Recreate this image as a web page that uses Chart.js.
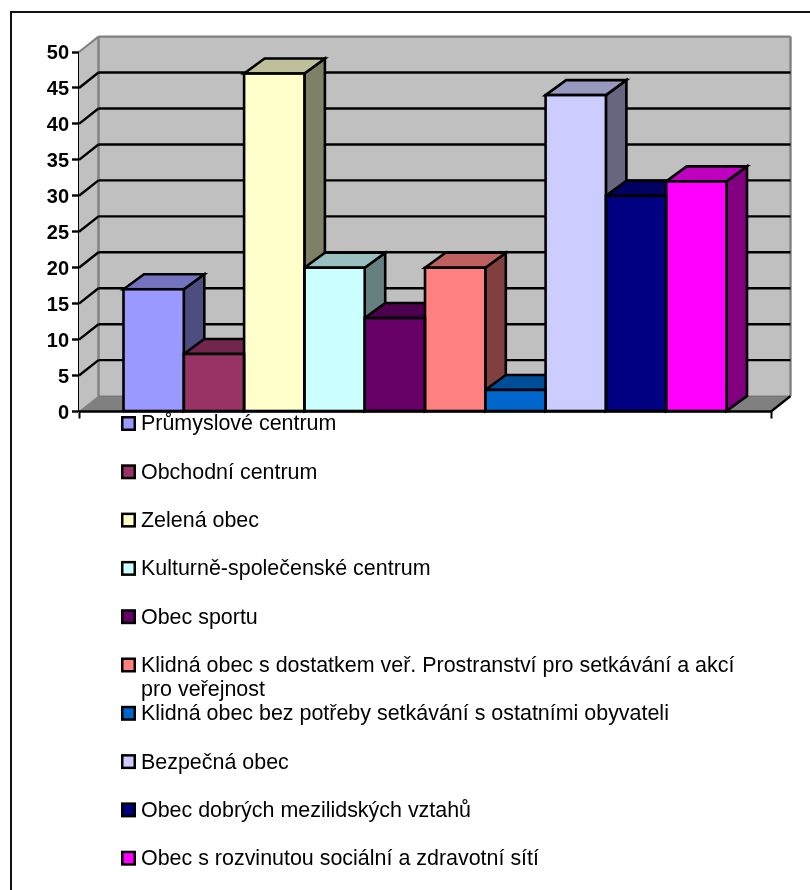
<!DOCTYPE html>
<html lang="cs">
<head>
<meta charset="utf-8">
<title>Chart</title>
<script src="https://cdn.jsdelivr.net/npm/chart.js@4/dist/chart.umd.min.js"></script>
<style>html,body{margin:0;padding:0;background:#fff}canvas{display:block}</style>
</head>
<body>
<canvas id="c" width="810" height="890"></canvas>
<script>
const seriesNames = [
  ["Průmyslové centrum"],
  ["Obchodní centrum"],
  ["Zelená obec"],
  ["Kulturně-společenské centrum"],
  ["Obec sportu"],
  ["Klidná obec s dostatkem veř. Prostranství pro setkávání a akcí", "pro veřejnost"],
  ["Klidná obec bez potřeby setkávání s ostatními obyvateli"],
  ["Bezpečná obec"],
  ["Obec dobrých mezilidských vztahů"],
  ["Obec s rozvinutou sociální a zdravotní sítí"]
];
const seriesValues = [17, 8, 47, 20, 13, 20, 3, 44, 30, 32];
const seriesColors = ["#9999FF","#993366","#FFFFCC","#CCFFFF","#660066","#FF8080","#0066CC","#CCCCFF","#000080","#FF00FF"];
const categories = [""];
const tickStep = 5, axisMax = 50;

const FONT = '"Liberation Sans", Arial, sans-serif';
const shade = (hex, k) => {
  const n = parseInt(hex.slice(1), 16);
  return `rgb(${Math.round((n>>16&255)*k)},${Math.round((n>>8&255)*k)},${Math.round((n&255)*k)})`;
};
const poly = (ctx, pts, fill, stroke, lw) => {
  ctx.beginPath();
  pts.forEach((p,i)=> i?ctx.lineTo(p[0],p[1]):ctx.moveTo(p[0],p[1]));
  ctx.closePath();
  if (fill){ctx.fillStyle=fill;ctx.fill();}
  if (stroke){ctx.strokeStyle=stroke;ctx.lineWidth=lw;ctx.lineJoin='miter';ctx.stroke();}
};
const line = (ctx,x1,y1,x2,y2,c,w)=>{ctx.beginPath();ctx.moveTo(x1,y1);ctx.lineTo(x2,y2);ctx.strokeStyle=c;ctx.lineWidth=w;ctx.stroke();};

const WALL_DX = 19.5, WALL_DY = 15.4, BAR_DX = 20.5, BAR_DY = 15;
const BAR_LINE = 2.6, GRID_LINE = 2.4;

const scene3d = {
  id:'scene3d',
  beforeDatasetsDraw(chart){
    const {ctx, scales:{x,y}} = chart;
    const L=x.left,R=x.right,T=y.getPixelForValue(axisMax),B=y.getPixelForValue(0);
    ctx.save();
    // back wall, side wall, floor
    poly(ctx,[[L+WALL_DX,T-WALL_DY],[R+WALL_DX,T-WALL_DY],[R+WALL_DX,B-WALL_DY],[L+WALL_DX,B-WALL_DY]],'#C0C0C0');
    poly(ctx,[[L,T],[L+WALL_DX,T-WALL_DY],[L+WALL_DX,B-WALL_DY],[L,B]],'#C0C0C0');
    poly(ctx,[[L,B],[L+WALL_DX,B-WALL_DY],[R+WALL_DX,B-WALL_DY],[R,B]],'#808080');
    // wall edges
    line(ctx,L,T,L+WALL_DX,T-WALL_DY,'#808080',2);
    line(ctx,L+WALL_DX,T-WALL_DY,R+WALL_DX,T-WALL_DY,'#808080',2.4);
    line(ctx,L+WALL_DX,T-WALL_DY,L+WALL_DX,B-WALL_DY,'#808080',2.4);
    line(ctx,R+WALL_DX,T-WALL_DY,R+WALL_DX,B-WALL_DY,'#808080',2.4);
    line(ctx,L+WALL_DX,B-WALL_DY,R+WALL_DX,B-WALL_DY,'#707070',1);
    line(ctx,L,B,L+WALL_DX,B-WALL_DY,'#808080',1);
    line(ctx,R,B,R+WALL_DX,B-WALL_DY,'#000',2.4);
    // gridlines
    for(let v=tickStep;v<axisMax;v+=tickStep){
      const py=y.getPixelForValue(v);
      line(ctx,L,py,L+WALL_DX,py-WALL_DY,'#000',GRID_LINE);
      line(ctx,L+WALL_DX,py-WALL_DY,R+WALL_DX,py-WALL_DY,'#000',GRID_LINE);
    }
    const bars = chart.data.datasets.map((d,i)=>({el:chart.getDatasetMeta(i).data[0],c:d.backgroundColor}));
    // sides first, then tops: a bar's top hides the lower part of its left neighbour's side
    bars.forEach(({el,c})=>{
      const r=el.x+el.width/2,t=el.y,b=el.base;
      poly(ctx,[[r,t],[r+BAR_DX,t-BAR_DY],[r+BAR_DX,b-BAR_DY],[r,b]],shade(c,.5),'#000',BAR_LINE);
    });
    bars.forEach(({el,c})=>{
      const l=el.x-el.width/2,r=el.x+el.width/2,t=el.y;
      poly(ctx,[[l,t],[l+BAR_DX,t-BAR_DY],[r+BAR_DX,t-BAR_DY],[r,t]],shade(c,.75),'#000',BAR_LINE);
    });
    ctx.restore();
  },
  afterDatasetsDraw(chart){
    const {ctx} = chart;
    ctx.save();
    chart.data.datasets.forEach((d,i)=>{
      const el=chart.getDatasetMeta(i).data[0];
      ctx.strokeStyle='#000';ctx.lineWidth=BAR_LINE;
      ctx.strokeRect(el.x-el.width/2,el.y,el.width,el.base-el.y);
    });
    ctx.restore();
  },
  afterDraw(chart){
    const {ctx, scales:{x,y}} = chart;
    ctx.save();
    // baseline drawn above the bars
    line(ctx,x.left,y.getPixelForValue(0),x.right,y.getPixelForValue(0),'#000',2.6);
    // frame
    line(ctx,10,12,810,12,'#111',2);
    line(ctx,11,11,11,890,'#111',2);
    // legend
    const boxX=121,startY=423.5,pitch=48.3,textX=141,lh=24.5;
    ctx.font='21.45px '+FONT;
    ctx.textBaseline='middle';ctx.textAlign='left';
    seriesNames.forEach((lines,i)=>{
      const cy=startY+i*pitch;
      ctx.fillStyle='#000';ctx.fillRect(boxX,cy-7.5,15,15);
      ctx.fillStyle=seriesColors[i];ctx.fillRect(boxX+2.5,cy-5,10,10);
      ctx.fillStyle='#000';
      lines.forEach((t,k)=>ctx.fillText(t,textX,cy+k*lh+1));
    });
    ctx.restore();
  }
};

new Chart(document.getElementById('c'),{
  type:'bar',
  data:{
    labels:categories,
    datasets:seriesNames.map((n,i)=>({
      label:n.join(' '),
      data:[seriesValues[i]],
      backgroundColor:seriesColors[i],
      borderWidth:0,
      barPercentage:1,
      categoryPercentage:0.8714
    }))
  },
  plugins:[scene3d],
  options:{
    responsive:false,
    animation:false,
    devicePixelRatio:1,
    layout:{padding:{left:0,top:52,right:39,bottom:0}},
    plugins:{legend:{display:false},tooltip:{enabled:false},title:{display:false}},
    scales:{
      x:{
        grid:{drawOnChartArea:false,drawTicks:true,tickLength:7,tickColor:'#000',tickWidth:2,offset:true},
        border:{display:false},
        ticks:{display:false},
        afterFit(s){s.height=478.5;s.paddingLeft=0;s.paddingRight=0;}
      },
      y:{
        min:0,max:axisMax,
        grid:{drawOnChartArea:false,drawTicks:true,tickLength:7,tickColor:'#000',tickWidth:2.4},
        border:{color:'#000',width:2.4},
        ticks:{stepSize:tickStep,color:'#000',font:{family:FONT,size:20,weight:'bold'},padding:3,labelOffset:1.5},
        afterFit(s){s.width=79;s.paddingTop=0;s.paddingBottom=0;}
      }
    }
  }
});
</script>
</body>
</html>
